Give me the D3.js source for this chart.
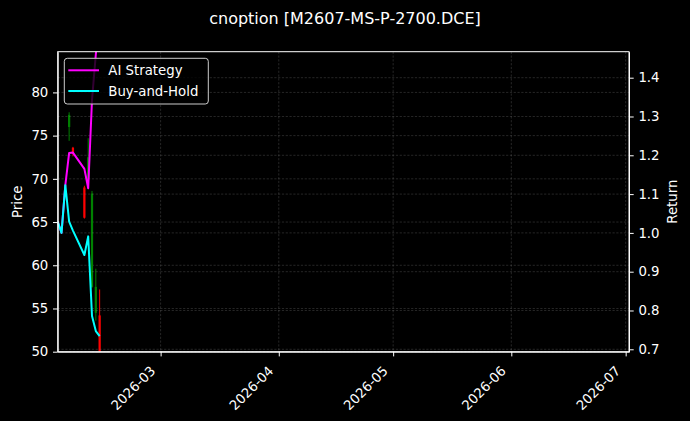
<!DOCTYPE html>
<html>
<head>
<meta charset="utf-8">
<script src="https://cdn.jsdelivr.net/npm/d3@7"></script>
<style>
  html, body { margin: 0; padding: 0; background: #000; }
  svg { display: block; font-family: "DejaVu Sans", sans-serif; }
</style>
</head>
<body>
<div id="graph_box"></div>
<script>
// daily return series (both start equal)
const dates = ["2026-02-02", "2026-02-03", "2026-02-04", "2026-02-05", "2026-02-06",
               "2026-02-09", "2026-02-10", "2026-02-11", "2026-02-12", "2026-02-13"];
const aiReturn = [1.029, 1.0, 1.123, 1.206, 1.207, 1.165, 1.115, 1.343, 1.46, 1.55];
const bhReturn = [1.029, 1.0, 1.123, 1.029, 1.006, 0.943, 0.991, 0.786, 0.747, 0.734];

// candles that show in the window
const candleDates = ["2026-02-05", "2026-02-06", "2026-02-09", "2026-02-10",
                     "2026-02-11", "2026-02-12", "2026-02-13"];
const opens  = [76.0, 73.6, 69.0, 70.0, 57.5, 54.5, 54.2];
const highs  = [77.7, 73.7, 69.2, 74.7, 68.6, 59.6, 57.2];
const lows   = [74.4, 72.6, 65.4, 68.8, 57.4, 53.6, 47.0];
const closes = [77.4, 72.9, 65.5, 72.5, 68.3, 57.5, 48.0];

const priceTicks = [50, 55, 60, 65, 70, 75, 80];
const returnTicks = [0.7, 0.8, 0.9, 1.0, 1.1, 1.2, 1.3, 1.4];
const legendNames = ["AI Strategy", "Buy-and-Hold"];

const W = 690, H = 421;
const margin = { top: 51.7, right: 61, bottom: 69.3, left: 57.7 };
const width = W - margin.left - margin.right,
      height = H - margin.top - margin.bottom;

const parse = d3.utcParse("%Y-%m-%d");

const svg = d3.select("#graph_box")
    .append("svg")
    .attr("width", W)
    .attr("height", H)
    .style("background", "#000");

svg.append("text")
    .attr("x", W / 2)
    .attr("y", 24)
    .attr("text-anchor", "middle")
    .attr("fill", "#fff")
    .style("font-size", "16px")
    .text("cnoption [M2607-MS-P-2700.DCE]");

const g = svg.append("g")
    .attr("transform", `translate(${margin.left},${margin.top})`);

const x = d3.scaleUtc()
    .domain([parse("2026-02-02"), new Date(Date.UTC(2026, 6, 1, 21))])
    .range([0, width]);
const yP = d3.scaleLinear().domain([50, 84.71]).range([height, 0]);
const yR = d3.scaleLinear().domain([0.6938, 1.467]).range([height, 0]);

g.append("clipPath").attr("id", "clip")
    .append("rect").attr("width", width).attr("height", height);

// grids
const gridStyle = sel => sel.attr("stroke", "#808080").attr("stroke-opacity", 0.5)
    .attr("stroke-width", 0.6).attr("stroke-dasharray", "2.2,1.6");
const monthTicks = x.ticks(d3.utcMonth.every(1));

g.append("g").selectAll("line").data(monthTicks).enter().append("line")
    .attr("x1", d => x(d)).attr("x2", d => x(d)).attr("y1", 0).attr("y2", height)
    .call(gridStyle);
g.append("g").selectAll("line").data(priceTicks).enter().append("line")
    .attr("x1", 0).attr("x2", width).attr("y1", d => yP(d)).attr("y2", d => yP(d))
    .call(gridStyle);

// candles
const candles = candleDates.map((d, i) => ({
    date: parse(d), o: opens[i], h: highs[i], l: lows[i], c: closes[i]
}));
const cg = g.append("g").attr("clip-path", "url(#clip)");
const bodyW = x(new Date(Date.UTC(2026, 1, 1, 14))) - x(new Date(Date.UTC(2026, 1, 1)));
const candleColor = d => d.c >= d.o ? "#008000" : "#ff0000";
cg.selectAll("line.wick").data(candles).enter().append("line")
    .attr("class", "wick")
    .attr("x1", d => x(d.date)).attr("x2", d => x(d.date))
    .attr("y1", d => yP(d.h)).attr("y2", d => yP(d.l))
    .attr("stroke", candleColor).attr("stroke-width", 1);
cg.selectAll("rect").data(candles).enter().append("rect")
    .attr("x", d => x(d.date) - bodyW / 2)
    .attr("width", bodyW)
    .attr("y", d => yP(Math.max(d.o, d.c)))
    .attr("height", d => Math.max(0.8, Math.abs(yP(d.o) - yP(d.c))))
    .attr("fill", candleColor);

// right axis grid (twin axis sits on top)
g.append("g").selectAll("line").data(returnTicks).enter().append("line")
    .attr("x1", 0).attr("x2", width).attr("y1", d => yR(d)).attr("y2", d => yR(d))
    .call(gridStyle);

// return lines
const series = [
    { name: legendNames[0], values: aiReturn, color: "#ff00ff" },
    { name: legendNames[1], values: bhReturn, color: "#00ffff" }
];
const line = d3.line().x(d => x(d.date)).y(d => yR(d.v));
const lg = g.append("g").attr("clip-path", "url(#clip)");
series.forEach(s => {
    lg.append("path")
        .datum(dates.map((d, i) => ({ date: parse(d), v: s.values[i] })))
        .attr("d", line)
        .attr("fill", "none")
        .attr("stroke", s.color)
        .attr("stroke-width", 2)
        .attr("stroke-linejoin", "round");
});

// axes
const styleAxis = sel => {
    sel.selectAll("path").attr("stroke", "#fff");
    sel.selectAll("line").attr("stroke", "#fff");
    sel.selectAll("text").attr("fill", "#fff").style("font-size", "13.3px")
        .style("font-family", "DejaVu Sans, sans-serif");
};

const xAxis = g.append("g")
    .attr("transform", `translate(0,${height})`)
    .call(d3.axisBottom(x).tickValues(monthTicks).tickFormat(d3.utcFormat("%Y-%m"))
        .tickSize(4.7).tickPadding(0).tickSizeOuter(0))
    .call(styleAxis);
xAxis.selectAll("text")
    .attr("text-anchor", "end")
    .attr("dy", null)
    .attr("y", 0)
    .attr("transform", "translate(-5,20) rotate(-45)");

g.append("g")
    .call(d3.axisLeft(yP).tickValues(priceTicks).tickSize(4.7).tickPadding(4.7).tickSizeOuter(0))
    .call(styleAxis);
g.append("g")
    .attr("transform", `translate(${width},0)`)
    .call(d3.axisRight(yR).tickValues(returnTicks).tickFormat(d3.format(".1f"))
        .tickSize(4.7).tickPadding(4.7).tickSizeOuter(0))
    .call(styleAxis);

// spines
g.append("rect")
    .attr("width", width).attr("height", height)
    .attr("fill", "none").attr("stroke", "#fff").attr("stroke-width", 1);

g.append("text")
    .attr("transform", `translate(${-36},${height / 2}) rotate(-90)`)
    .attr("text-anchor", "middle")
    .attr("fill", "#fff")
    .style("font-size", "13.3px")
    .text("Price");
g.append("text")
    .attr("transform", `translate(${width + 47.5},${height / 2}) rotate(-90)`)
    .attr("text-anchor", "middle")
    .attr("fill", "#fff")
    .style("font-size", "13.3px")
    .text("Return");

// legend
const leg = g.append("g").attr("transform", "translate(6.6,6.6)");
leg.append("rect")
    .attr("width", 144).attr("height", 45.7).attr("rx", 3)
    .attr("fill", "#000").attr("fill-opacity", 0.8)
    .attr("stroke", "#ccc").attr("stroke-width", 1);
series.forEach((s, i) => {
    const yy = 12 + i * 20.7;
    leg.append("line")
        .attr("x1", 4).attr("x2", 34.7).attr("y1", yy).attr("y2", yy)
        .attr("stroke", s.color).attr("stroke-width", 2);
    leg.append("text")
        .attr("x", 44).attr("y", yy + 4.8)
        .attr("fill", "#fff")
        .style("font-size", "13.3px")
        .text(s.name);
});
</script>
</body>
</html>
